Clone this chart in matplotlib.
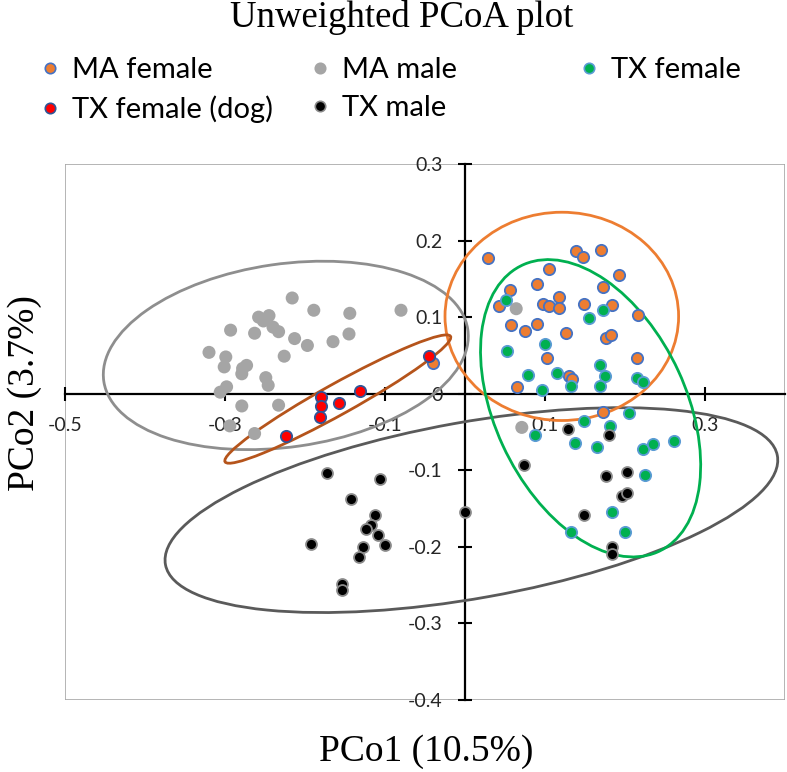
import numpy as np
import matplotlib
matplotlib.use("Agg")
from matplotlib import pyplot as plt
from matplotlib.patches import Ellipse, Rectangle
from matplotlib.lines import Line2D

# PCoA coordinates (PCo1, PCo2)
ma_female_x = [0.029, 0.139, 0.147, 0.170, 0.105, 0.193, 0.056, 0.090, 0.173, 0.042,
               0.097, 0.105, 0.117, 0.118, 0.149, 0.184, 0.216, 0.058, 0.075, 0.090,
               0.126, 0.176, 0.183, 0.103, 0.215, 0.130, 0.134, 0.065, 0.172, -0.040]
ma_female_y = [0.177, 0.187, 0.179, 0.188, 0.163, 0.155, 0.136, 0.143, 0.140, 0.115,
               0.117, 0.114, 0.126, 0.112, 0.117, 0.116, 0.103, 0.090, 0.082, 0.091,
               0.079, 0.073, 0.077, 0.046, 0.046, 0.023, 0.019, 0.009, -0.024, 0.040]

ma_male_x = [-0.216, -0.189, -0.144, -0.080, -0.258, -0.245, -0.252, -0.240, -0.233, -0.293,
             -0.263, -0.213, -0.197, -0.165, -0.145, -0.320, -0.299, -0.301, -0.278, -0.273,
             -0.279, -0.226, -0.249, -0.246, -0.298, -0.306, -0.279, -0.233, -0.294, -0.263,
             0.064, 0.071]
ma_male_y = [0.125, 0.109, 0.105, 0.109, 0.100, 0.102, 0.095, 0.087, 0.081, 0.083,
             0.079, 0.072, 0.063, 0.068, 0.078, 0.054, 0.048, 0.035, 0.033, 0.037,
             0.026, 0.049, 0.021, 0.011, 0.009, 0.002, -0.016, -0.015, -0.042, -0.052,
             0.111, -0.044]

tx_female_x = [0.051, 0.155, 0.173, 0.052, 0.100, 0.169, 0.079, 0.115, 0.175, 0.215,
               0.222, 0.096, 0.133, 0.169, 0.205, 0.149, 0.181, 0.088, 0.138, 0.165,
               0.222, 0.235, 0.261, 0.225, 0.184, 0.132, 0.200]
tx_female_y = [0.123, 0.099, 0.109, 0.056, 0.065, 0.038, 0.024, 0.027, 0.023, 0.021,
               0.015, 0.005, 0.010, 0.010, -0.025, -0.036, -0.042, -0.054, -0.064, -0.070,
               -0.072, -0.066, -0.062, -0.106, -0.155, -0.180, -0.180]

dog_x = [-0.045, -0.131, -0.180, -0.180, -0.157, -0.181, -0.224]
dog_y = [0.049, 0.003, -0.004, -0.016, -0.012, -0.030, -0.055]

tx_male_x = [0.129, 0.180, 0.074, 0.176, 0.202, 0.196, 0.203, 0.149, 0.184, 0.184,
             0.000, -0.172, -0.106, -0.143, -0.112, -0.118, -0.124, -0.109, -0.100, -0.128,
             -0.133, -0.193, -0.154, -0.154]
tx_male_y = [-0.046, -0.054, -0.093, -0.108, -0.102, -0.133, -0.130, -0.159, -0.200, -0.209,
             -0.154, -0.103, -0.111, -0.138, -0.158, -0.172, -0.177, -0.185, -0.198, -0.200,
             -0.213, -0.196, -0.248, -0.256]

# group ellipses: center x, center y, width, height, angle
ell_ma_female = [0.121, 0.101, 0.292, 0.272, 0.0]
ell_ma_male = [-0.224, 0.050, 0.460, 0.239, 8.6]
ell_tx_female = [0.157, -0.019, 0.411, 0.240, 113.8]
ell_dog = [-0.159, -0.007, 0.326, 0.040, 30.2]
ell_tx_male = [0.008, -0.152, 0.778, 0.230, 10.6]

xticks = [-0.5, -0.3, -0.1, 0.1, 0.3]
xticklabels = ["-0.5", "-0.3", "-0.1", "0.1", "0.3"]
yticks = [0.3, 0.2, 0.1, 0.0, -0.1, -0.2, -0.3, -0.4]
yticklabels = ["0.3", "0.2", "0.1", "0", "-0.1", "-0.2", "-0.3", "-0.4"]

sans = "Lato"
serif = "Liberation Serif"

fig = plt.figure(figsize=(7.87, 7.72), dpi=100)
ax = fig.add_axes([65 / 787, 72 / 772, 720 / 787, 536 / 772])
ax.set_xlim(-0.5, 0.4)
ax.set_ylim(-0.4, 0.3)

#frame + axes crossing at zero
ax.add_patch(Rectangle((0, 0), 1, 1, transform=ax.transAxes, fill=False,
                       ec="#A8A8A8", lw=1.2, zorder=0))
for s in ["top", "right"]:
    ax.spines[s].set_visible(False)
ax.spines["left"].set_position(("data", 0))
ax.spines["bottom"].set_position(("data", 0))
for s in ["left", "bottom"]:
    ax.spines[s].set_linewidth(1.6)
    ax.spines[s].set_color("black")
    ax.spines[s].set_zorder(1)

ax.set_xticks(xticks)
ax.set_xticklabels(xticklabels)
ax.set_yticks(yticks)
ax.set_yticklabels(yticklabels)
ax.tick_params(axis="both", direction="inout", length=10, width=1.5, color="black",
               labelsize=14, labelcolor="#262626")
ax.tick_params(axis="x", pad=12)
ax.tick_params(axis="y", pad=11)
for lab in ax.get_xticklabels() + ax.get_yticklabels():
    lab.set_fontfamily(sans)

#ellipses
for e, c in [(ell_ma_male, "#8E8E8E"), (ell_tx_male, "#5A5A5A"), (ell_ma_female, "#ED7D31"),
             (ell_tx_female, "#00B050"), (ell_dog, "#B5541B")]:
    ax.add_patch(Ellipse((e[0], e[1]), e[2], e[3], angle=e[4], fill=False,
                         ec=c, lw=2.0, zorder=2))

#points
ax.scatter(ma_female_x, ma_female_y, s=66, c="#ED7D31", edgecolors="#4472C4", linewidths=1.3, zorder=3)
ax.scatter(ma_male_x, ma_male_y, s=88, c="#A5A5A5", edgecolors="none", zorder=3)
ax.scatter(tx_female_x, tx_female_y, s=66, c="#00B050", edgecolors="#5B9BD5", linewidths=1.3, zorder=3)
ax.scatter(dog_x, dog_y, s=66, c="#FF0000", edgecolors="#2F5597", linewidths=1.3, zorder=3)
ax.scatter(tx_male_x, tx_male_y, s=62, c="black", edgecolors="#8A8A8A", linewidths=1.3, zorder=3)

#legend, three columns
def handle(fc, ec):
    return Line2D([], [], ls="none", marker="o", ms=7.5, mfc=fc, mec=ec, mew=1.2)

cols = [
    ([handle("#ED7D31", "#4472C4"), handle("#FF0000", "#2F5597")], ["MA female", "TX female (dog)"], 37),
    ([handle("#A5A5A5", "#A5A5A5"), handle("black", "#8A8A8A")], ["MA male", "TX male"], 307),
    ([handle("#00B050", "#5B9BD5")], ["TX female"], 576),
]
for h, l, x in cols:
    fig.legend(h, l, loc="upper left", bbox_to_anchor=(x / 787, 1 - 57 / 772),
               frameon=False, borderpad=0, borderaxespad=0, handlelength=0.9,
               handletextpad=0.3, labelspacing=0.42,
               prop={"family": sans, "size": 21})

fig.text(402 / 787, 1 - 27 / 772, "Unweighted PCoA plot", ha="center", va="baseline",
         fontfamily=serif, fontsize=26.5)
fig.text(426 / 787, 1 - 752 / 772, "PCo1 (10.5%)", ha="center", va="center",
         fontfamily=serif, fontsize=27)
fig.text(25 / 787, 1 - 393 / 772, "PCo2 (3.7%)", ha="center", va="center", rotation=90,
         fontfamily=serif, fontsize=27)

fig.savefig("out.png", dpi=100)
